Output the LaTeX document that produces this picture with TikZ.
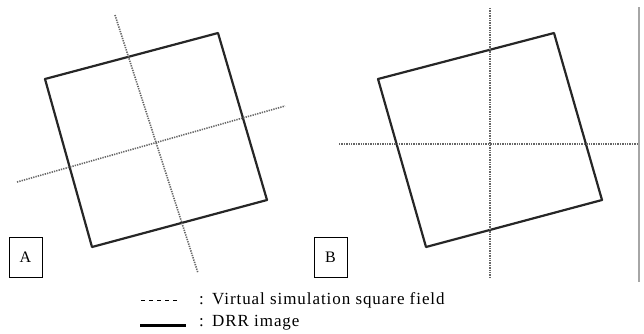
\documentclass[tikz,border=0pt]{standalone}
\usepackage{fontspec}
\setmainfont{Liberation Serif}
\newfontfamily\legfont[LetterSpace=5.5]{Liberation Serif}
\begin{document}
\begin{tikzpicture}[x=1pt,y=-1pt,
  drr/.style={line width=2.2pt,black!85,line join=round},
  axis/.style={line width=1.6pt,black!60,dash pattern=on 1.3pt off 1.1pt},
  lbl/.style={draw,line width=0.6pt,minimum width=33pt,minimum height=40pt,inner sep=0pt,font=\fontsize{16}{16}\selectfont},
  legtxt/.style={anchor=base west,inner sep=0pt,font=\legfont\fontsize{17}{17}\selectfont}]
\useasboundingbox (0,0) rectangle (644,333);
% Panel A
\coordinate (a1) at (45,79);
\coordinate (a2) at (218,33);
\coordinate (a3) at (267,200);
\coordinate (a4) at (92,247);
\draw[drr] (a1) -- (a2) -- (a3) -- (a4) -- cycle;
\coordinate (av1) at (115,15);
\coordinate (av2) at (198,273);
\coordinate (ah1) at (17,182);
\coordinate (ah2) at (285,106);
\draw[axis] (av1) -- (av2);
\draw[axis] (ah1) -- (ah2);
\node[lbl] (A) at (25.5,257.5) {A};
% Panel B
\coordinate (b1) at (378,79);
\coordinate (b2) at (554,33);
\coordinate (b3) at (602,200);
\coordinate (b4) at (426,247);
\draw[drr] (b1) -- (b2) -- (b3) -- (b4) -- cycle;
\coordinate (bv1) at (490,8);
\coordinate (bv2) at (490,278);
\coordinate (bh1) at (339,144);
\coordinate (bh2) at (638,144);
\draw[axis] (bv1) -- (bv2);
\draw[axis] (bh1) -- (bh2);
\node[lbl] (B) at (330.5,257) {B};
\coordinate (g1) at (639,7);
\coordinate (g2) at (639,282);
\draw[line width=1.2pt,black!35] (g1) -- (g2);
% Legend
\coordinate (l1) at (141,300);
\coordinate (l2) at (177,300);
\draw[line width=0.8pt,dash pattern=on 4pt off 4pt] (l1) -- (l2);
\coordinate (l3) at (140,325.5);
\coordinate (l4) at (186,325.5);
\draw[line width=2.2pt] (l3) -- (l4);
\node[legtxt] (c1) at (199,304) {:};
\node[legtxt] (t1) at (212,304) {Virtual simulation square field};
\node[legtxt] (c2) at (199,326) {:};
\node[legtxt] (t2) at (212,326) {DRR image};
\end{tikzpicture}
\end{document}
